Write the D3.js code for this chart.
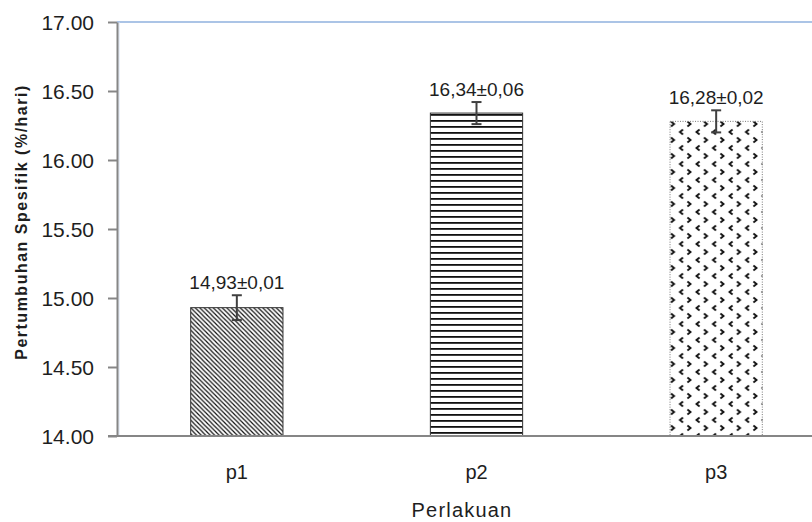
<!DOCTYPE html>
<html>
<head>
<meta charset="utf-8">
<script src="https://cdn.jsdelivr.net/npm/d3@7"></script>
<style>
  body { margin: 0; background: #fff; }
  text { font-family: "Liberation Sans", Arial, sans-serif; fill: #1e1e1e; }
</style>
</head>
<body>
<div id="chart"></div>
<script>
// data
var categories = ["p1", "p2", "p3"];
var values = [14.93, 16.34, 16.28];
var errors = [0.09, 0.08, 0.08];
var labels = ["14,93\u00b10,01", "16,34\u00b10,06", "16,28\u00b10,02"];
var yTicks = [14.0, 14.5, 15.0, 15.5, 16.0, 16.5, 17.0];

var svgWidth = 812, svgHeight = 522;
var margin = { top: 22, left: 117, bottom: 86 };
var plotRight = 836; // plot area runs past the right edge

var svg = d3.select("#chart").append("svg")
  .attr("width", svgWidth)
  .attr("height", svgHeight);

var defs = svg.append("defs");

// diagonal hatch for p1
var pat1 = defs.append("pattern")
  .attr("id", "hatch1")
  .attr("patternUnits", "userSpaceOnUse")
  .attr("width", 4.5).attr("height", 4.5);
pat1.append("rect").attr("width", 4.5).attr("height", 4.5).attr("fill", "#fff");
pat1.append("path")
  .attr("d", "M-1,-1 L5.5,5.5 M-1,3.5 L1,5.5 M3.5,-1 L5.5,1")
  .attr("stroke", "#111").attr("stroke-width", 1.2);

// horizontal lines for p2
var pat2 = defs.append("pattern")
  .attr("id", "hatch2")
  .attr("patternUnits", "userSpaceOnUse")
  .attr("width", 10).attr("height", 6);
pat2.append("rect").attr("width", 10).attr("height", 6).attr("fill", "#fff");
pat2.append("rect").attr("y", 0).attr("width", 10).attr("height", 1.8).attr("fill", "#111");

// small chevrons for p3
var pat3 = defs.append("pattern")
  .attr("id", "hatch3")
  .attr("patternUnits", "userSpaceOnUse")
  .attr("width", 16.5).attr("height", 16);
pat3.append("rect").attr("width", 16.5).attr("height", 16).attr("fill", "#fff");
pat3.append("path")
  .attr("d", "M6.5,1.5 L3.5,4 L6.5,6.5 M11,9.5 L14,12 L11,14.5")
  .attr("stroke", "#111").attr("stroke-width", 1.9).attr("fill", "none");

var fills = ["url(#hatch1)", "url(#hatch2)", "url(#hatch3)"];

var yScale = d3.scaleLinear()
  .domain([14, 17])
  .range([svgHeight - margin.bottom, margin.top]);

var xScale = d3.scaleBand()
  .domain(categories)
  .range([margin.left, plotRight])
  .paddingInner(0.615)
  .paddingOuter(0.3075);

// plot area borders
svg.append("line")
  .attr("x1", margin.left).attr("x2", svgWidth)
  .attr("y1", yScale(17)).attr("y2", yScale(17))
  .attr("stroke", "#8fb0de").attr("stroke-width", 1.5);
svg.append("line")
  .attr("x1", margin.left + 2).attr("x2", margin.left + 2)
  .attr("y1", yScale(17)).attr("y2", yScale(14))
  .attr("stroke", "#d5e2f3").attr("stroke-width", 1);

// bars
var base = yScale(14);
svg.append("g").selectAll("rect")
  .data(values)
  .enter()
  .append("rect")
  .attr("x", (d, i) => xScale(categories[i]))
  .attr("y", d => yScale(d))
  .attr("width", xScale.bandwidth())
  .attr("height", d => base - yScale(d))
  .attr("fill", (d, i) => fills[i])
  .attr("stroke", (d, i) => i == 2 ? "#777" : "#333")
  .attr("stroke-width", 1)
  .attr("stroke-dasharray", (d, i) => i == 2 ? "1,1.5" : null);

// error bars
var errG = svg.append("g").attr("stroke", "#404040").attr("stroke-width", 2);
values.forEach(function(v, i) {
  var cx = xScale(categories[i]) + xScale.bandwidth() / 2;
  errG.append("line")
    .attr("x1", cx).attr("x2", cx)
    .attr("y1", yScale(v + errors[i])).attr("y2", yScale(v - errors[i]));
  errG.append("line")
    .attr("x1", cx - 5).attr("x2", cx + 5)
    .attr("y1", yScale(v + errors[i])).attr("y2", yScale(v + errors[i]));
  errG.append("line")
    .attr("x1", cx - 5).attr("x2", cx + 5)
    .attr("y1", yScale(v - errors[i])).attr("y2", yScale(v - errors[i]));
});

// value labels
svg.append("g").selectAll("text")
  .data(values)
  .enter()
  .append("text")
  .attr("x", (d, i) => xScale(categories[i]) + xScale.bandwidth() / 2)
  .attr("y", (d, i) => yScale(d + errors[i]) - 6)
  .attr("text-anchor", "middle")
  .style("font-size", "19px")
  .text((d, i) => labels[i]);

// y axis
var yAxis = svg.append("g")
  .attr("transform", `translate(${margin.left}, 0)`)
  .call(d3.axisLeft(yScale).tickValues(yTicks).tickFormat(d3.format(".2f")).tickSizeInner(9).tickSizeOuter(0).tickPadding(14));
yAxis.selectAll("path, line").attr("stroke", "#868686").attr("stroke-width", 2);
yAxis.selectAll("text").style("font-size", "21px").attr("fill", "#1e1e1e").attr("dy", "0.35em");

// x axis
var xAxis = svg.append("g")
  .attr("transform", `translate(0, ${base})`)
  .call(d3.axisBottom(xScale).tickSize(0).tickPadding(29));
xAxis.select("path")
  .attr("d", `M${margin.left - 9},0H${svgWidth}`)
  .attr("stroke", "#868686").attr("stroke-width", 2);
xAxis.selectAll("text").style("font-size", "20px").attr("fill", "#1e1e1e");

// axis titles
svg.append("text")
  .attr("transform", "rotate(-90)")
  .attr("x", -222)
  .attr("y", 27)
  .attr("text-anchor", "middle")
  .style("font-size", "16px")
  .style("font-weight", "bold")
  .style("letter-spacing", "1.5px")
  .text("Pertumbuhan Spesifik (%/hari)");

svg.append("text")
  .attr("x", 462)
  .attr("y", 517)
  .attr("text-anchor", "middle")
  .style("font-size", "20px")
  .style("letter-spacing", "1.2px")
  .text("Perlakuan");
</script>
</body>
</html>
